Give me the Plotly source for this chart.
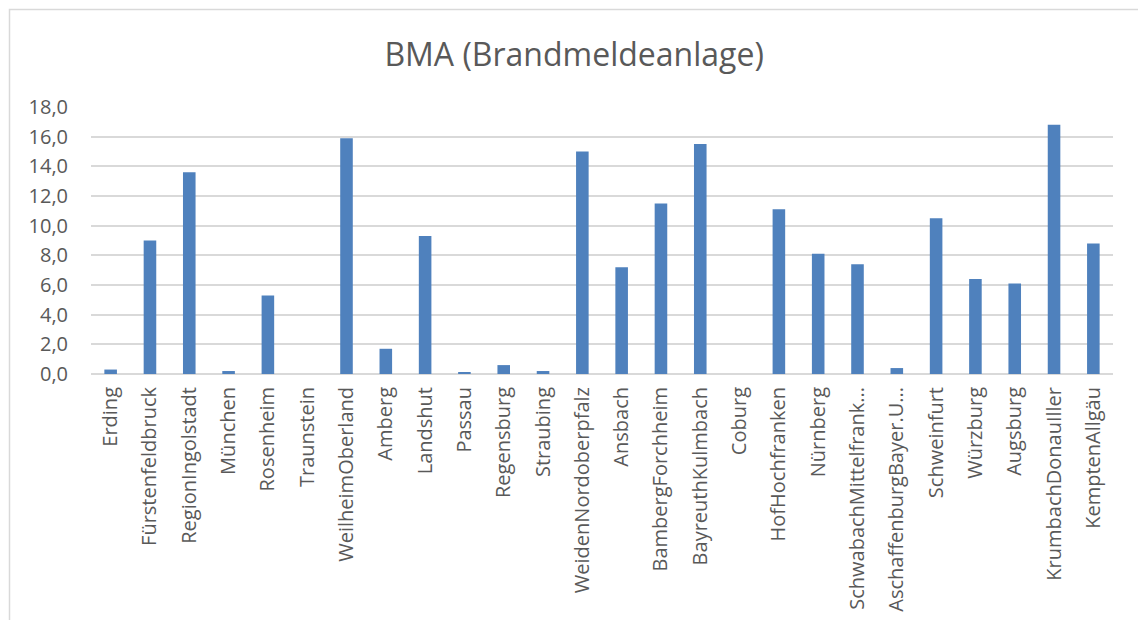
import plotly.graph_objects as go

# Categories (fire brigade areas) and BMA values
categories = [
    "Erding", "Fürstenfeldbruck", "RegionIngolstadt", "München", "Rosenheim",
    "Traunstein", "WeilheimOberland", "Amberg", "Landshut", "Passau",
    "Regensburg", "Straubing", "WeidenNordoberpfalz", "Ansbach",
    "BambergForchheim", "BayreuthKulmbach", "Coburg", "HofHochfranken",
    "Nürnberg", "SchwabachMittelfrank...", "AschaffenburgBayer.U...",
    "Schweinfurt", "Würzburg", "Augsburg", "KrumbachDonauIller", "KemptenAllgäu",
]
values = [
    0.3, 9.0, 13.6, 0.2, 5.3,
    0.0, 15.9, 1.7, 9.3, 0.1,
    0.6, 0.2, 15.0, 7.2,
    11.5, 15.5, 0.0, 11.1,
    8.1, 7.4, 0.4,
    10.5, 6.4, 6.1, 16.8, 8.8,
]
y_ticks = [0, 2, 4, 6, 8, 10, 12, 14, 16, 18]

W, H = 1138, 620
ML, MR, MT, MB = 91, 25, 107, 246
PW, PH = W - ML - MR, H - MT - MB

def px_to_paper_x(px):
    return (px - ML) / PW

def px_to_paper_y(py):
    return (H - MB - py) / PH

grey_text = "#595959"
grid = "#d9d9d9"
font_family = "Open Sans, Noto Sans, sans-serif"

fig = go.Figure(
    go.Bar(
        x=categories,
        y=values,
        marker=dict(color="#4f81bd", line=dict(width=0)),
        hoverinfo="x+y",
    )
)

fig.update_layout(
    width=W,
    height=H,
    margin=dict(l=ML, r=MR, t=MT, b=MB, autoexpand=False),
    paper_bgcolor="white",
    plot_bgcolor="white",
    separators=",.",
    bargap=0.68,
    showlegend=False,
    font=dict(family=font_family, color=grey_text, size=20),
    title=dict(
        text="BMA (Brandmeldeanlage)",
        x=0.5045, xanchor="center",
        y=1 - 55 / H, yanchor="middle",
        font=dict(size=32, color=grey_text, family=font_family),
    ),
    shapes=[
        dict(
            type="rect", xref="paper", yref="paper",
            x0=px_to_paper_x(9.5), x1=px_to_paper_x(1160),
            y0=px_to_paper_y(640), y1=px_to_paper_y(9.5),
            line=dict(color="#d9d9d9", width=1.5),
            fillcolor="rgba(0,0,0,0)",
            layer="below",
        )
    ],
)

fig.update_xaxes(
    type="category",
    tickangle=-90,
    showgrid=False,
    showline=False,
    ticks="",
    automargin=False,
    ticklabelstandoff=8,
    tickfont=dict(size=20, color=grey_text),
)
fig.update_yaxes(
    range=[0, 18],
    tickvals=y_ticks,
    tickformat=".1f",
    showgrid=True,
    gridcolor=grid,
    gridwidth=1.6,
    zeroline=True,
    zerolinecolor=grid,
    zerolinewidth=1.6,
    showline=False,
    ticks="",
    automargin=False,
    ticklabelstandoff=22,
    tickfont=dict(size=20, color=grey_text),
)

fig.write_html("out.html")
